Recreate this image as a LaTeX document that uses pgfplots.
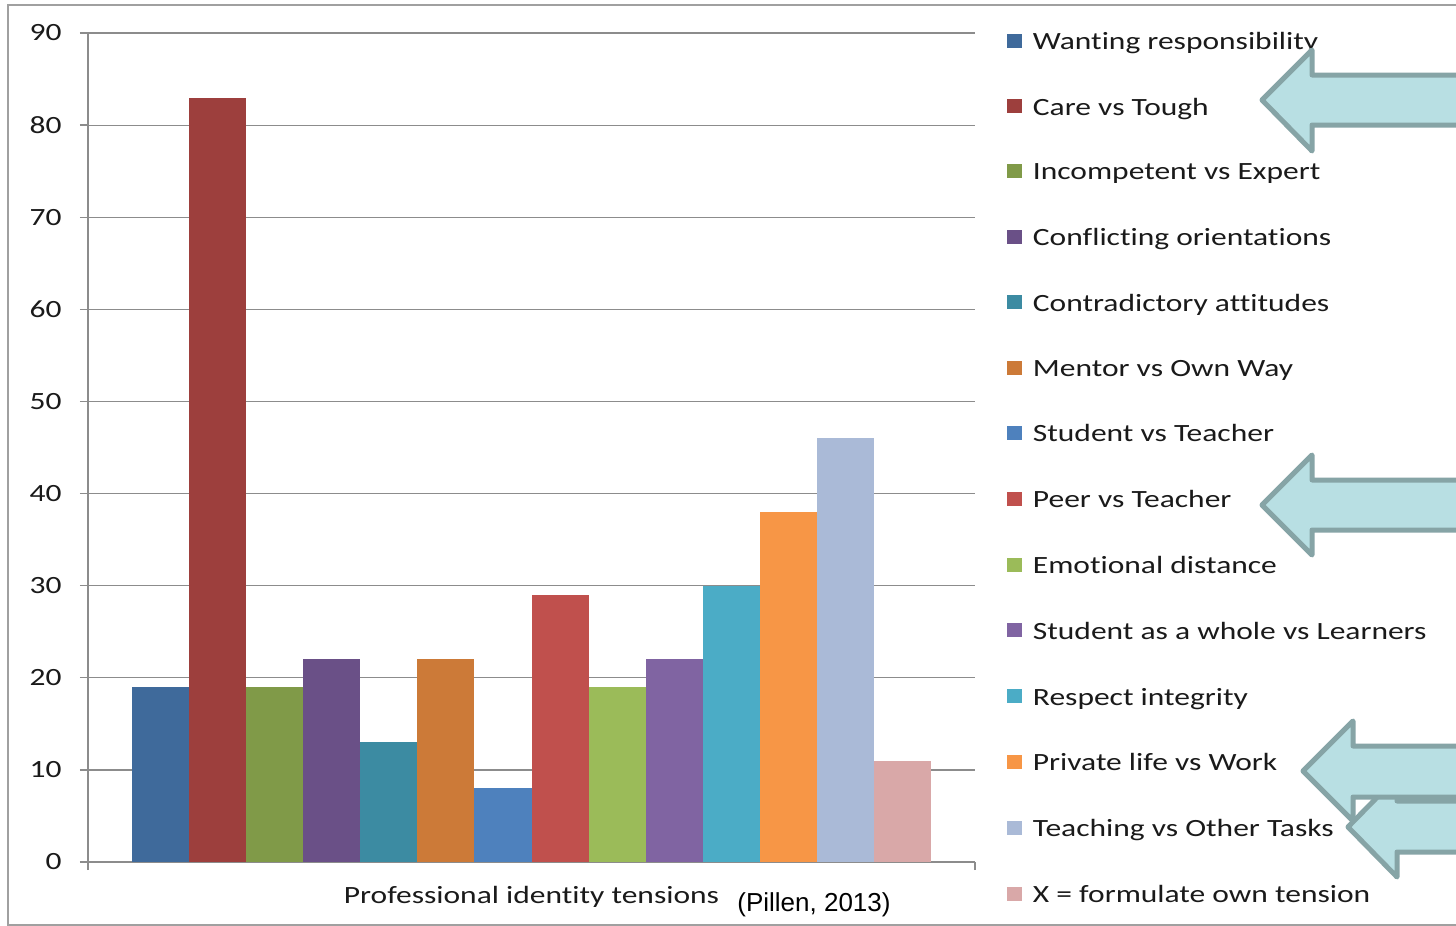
\documentclass[border=0pt]{standalone}
\usepackage{pgfplots}
\pgfplotsset{compat=1.18}
\usepackage{fontspec}
\setmainfont{Carlito}[FakeStretch=1.27, Ligatures=NoCommon]
\newfontfamily\arialfont{Liberation Sans}
\definecolor{c1}{HTML}{3F6A9B}
\definecolor{c2}{HTML}{9D3F3D}
\definecolor{c3}{HTML}{809A48}
\definecolor{c4}{HTML}{6A5087}
\definecolor{c5}{HTML}{3C8BA2}
\definecolor{c6}{HTML}{CC7A38}
\definecolor{c7}{HTML}{4E81BD}
\definecolor{c8}{HTML}{C0504D}
\definecolor{c9}{HTML}{9BBB59}
\definecolor{c10}{HTML}{8064A2}
\definecolor{c11}{HTML}{4BACC6}
\definecolor{c12}{HTML}{F79646}
\definecolor{c13}{HTML}{AABAD7}
\definecolor{c14}{HTML}{D9A8A8}
\definecolor{gridgray}{HTML}{8C8C8C}
\definecolor{framegray}{HTML}{A0A0A0}
\definecolor{arrowfill}{HTML}{B8DFE3}
\definecolor{arrowline}{HTML}{86A4A6}
\definecolor{txt}{HTML}{1A1A1A}
\newcommand{\fs}{\fontsize{12.4}{14}\selectfont}
\begin{document}
\begin{tikzpicture}
\begin{scope}[x=0.5pt,y=-0.5pt]
\fill[white] (0,0) rectangle (1456,926);
\draw[framegray, line width=1pt] (1470,5) -- (8,5) -- (8,925) -- (1470,925);
\end{scope}
\begin{axis}[
  at={(44pt,-431pt)}, anchor=south west,
  scale only axis, width=443.5pt, height=414.5pt,
  ybar, bar width=1, bar shift=0pt,
  xmin=-0.271, xmax=15.271, ymin=0, ymax=90,
  ytick={0,10,...,90},
  xtick={-0.271,15.271}, xticklabels={},
  axis x line*=bottom, axis y line*=left,
  x axis line style={-}, y axis line style={-},
  axis line style={gridgray, line width=0.7pt},
  tick style={gridgray, line width=0.7pt},
  major tick length=4pt, tick align=outside,
  ymajorgrids, grid style={gridgray, line width=0.6pt},
  /pgf/number format/assume math mode=true,
  yticklabel style={font=\fs, color=txt, inner sep=0pt, xshift=-9pt},
  xlabel={Professional identity tensions},
  xlabel style={font=\fs, color=txt, at={(axis description cs:0.5,0)}, anchor=base, yshift=-20.5pt},
  legend style={at={(axis description cs:1.036,1.001)}, anchor=north west, draw=none, fill=none, inner sep=0pt, outer sep=0pt, row sep=22.8pt, column sep=5.5pt, font=\fs, text=txt, nodes={inner sep=0pt, anchor=west}},
  legend cell align=left,
  legend image code/.code={\fill (0pt,-2.6pt) rectangle (7.5pt,4.4pt);},
  clip=false,
]
\addplot[fill=c1, draw=none] coordinates {(1,19)};
\addplot[fill=c2, draw=none] coordinates {(2,83)};
\addplot[fill=c3, draw=none] coordinates {(3,19)};
\addplot[fill=c4, draw=none] coordinates {(4,22)};
\addplot[fill=c5, draw=none] coordinates {(5,13)};
\addplot[fill=c6, draw=none] coordinates {(6,22)};
\addplot[fill=c7, draw=none] coordinates {(7,8)};
\addplot[fill=c8, draw=none] coordinates {(8,29)};
\addplot[fill=c9, draw=none] coordinates {(9,19)};
\addplot[fill=c10, draw=none] coordinates {(10,22)};
\addplot[fill=c11, draw=none] coordinates {(11,30)};
\addplot[fill=c12, draw=none] coordinates {(12,38)};
\addplot[fill=c13, draw=none] coordinates {(13,46)};
\addplot[fill=c14, draw=none] coordinates {(14,11)};
\legend{Wanting responsibility, Care vs Tough, Incompetent vs Expert, Conflicting orientations, Contradictory attitudes, Mentor vs Own Way, Student vs Teacher, Peer vs Teacher, Emotional distance, Student as a whole vs Learners, Respect integrity, Private life vs Work, Teaching vs Other Tasks, X = formulate own tension}
\end{axis}
\begin{scope}[x=0.5pt,y=-0.5pt]
\node[font=\arialfont\fontsize{13}{15}\selectfont, text=black, inner sep=0pt] at (814,905) {(Pillen, 2013)};
\tikzset{blk/.style={fill=arrowfill, draw=arrowline, line width=2.5pt, line join=round}}
\draw[blk] (1262,100) -- (1312,50) -- (1312,75) -- (1480,75) -- (1480,125) -- (1312,125) -- (1312,151) -- cycle;
\draw[blk] (1262,505) -- (1312,455) -- (1312,480) -- (1480,480) -- (1480,530) -- (1312,530) -- (1312,555) -- cycle;
\draw[blk] (1348,827) -- (1397,777) -- (1397,801) -- (1480,801) -- (1480,852) -- (1397,852) -- (1397,877) -- cycle;
\draw[blk] (1303,771) -- (1353,721) -- (1353,746) -- (1480,746) -- (1480,797) -- (1353,797) -- (1353,821) -- cycle;
\pgfresetboundingbox
\useasboundingbox (0,0) rectangle (1456,926);
\end{scope}
\end{tikzpicture}
\end{document}
